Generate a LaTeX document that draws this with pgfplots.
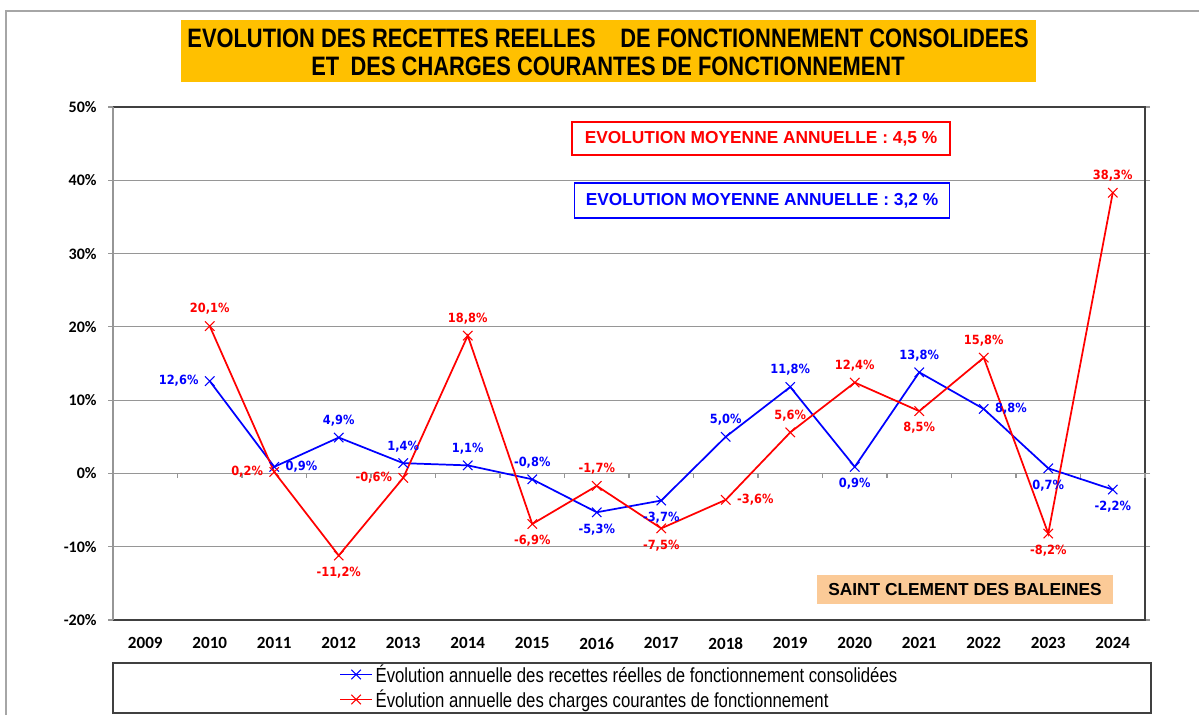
\documentclass[border=0pt]{standalone}
\usepackage{pgfplots}
\pgfplotsset{compat=1.18}
\usepackage{fontspec}
\setmainfont{Liberation Sans}
\newfontfamily\narrowfont{Liberation Sans}[FakeStretch=0.82]
\newfontfamily\calib{Carlito}
\newfontfamily\lblfont{DejaVu Sans}[FakeStretch=0.9]
\definecolor{titleor}{HTML}{FFC000}
\definecolor{peach}{HTML}{FBCA97}
\definecolor{gridc}{HTML}{969696}
\definecolor{boxc}{HTML}{404040}

\pgfplotsset{
  lbl/.style 2 args={
    draw=none, mark=none, forget plot,
    nodes near coords={\pgfmathprintnumber[fixed,fixed zerofill,precision=1,use comma,assume math mode=true]{\pgfplotspointmeta}\%},
    every node near coord/.append style={anchor=#2, inner sep=0.5pt, outer sep=8pt,
       font=\lblfont\bfseries\fontsize{9.5}{11}\selectfont, text=#1},
  }
}

\begin{document}
\begin{tikzpicture}
% outer chart border
\draw[color=gray!70, line width=1.1pt] (4.5pt,0pt) -- (4.5pt,528pt) -- (899.25pt,528pt);

\begin{axis}[
  at={(84.75pt,71.25pt)}, anchor=south west,
  scale only axis, width=774pt, height=384.75pt,
  xmin=-0.5, xmax=15.5, ymin=-20, ymax=50,
  xtick={0,...,15},
  xticklabels={2009,2010,2011,2012,2013,2014,2015,2016,2017,2018,2019,2020,2021,2022,2023,2024},
  ytick={-20,-10,0,10,20,30,40,50},
  yticklabels={-20\%,-10\%,0\%,10\%,20\%,30\%,40\%,50\%},
  ymajorgrids, grid style={color=gridc, line width=0.9pt},
  axis line style={draw=none},
  tick align=outside, major tick length=3.75pt,
  xtick style={draw=none},
  ytick style={color=gridc, line width=0.9pt},
  ticklabel style={font=\calib\bfseries\fontsize{12}{14}\selectfont},
  xticklabel style={yshift=-6pt, font=\calib\bfseries\fontsize{12.8}{14}\selectfont},
  yticklabel style={xshift=-5pt},
  clip=false,
  legend style={at={(0.5,-0.1306)}, anchor=center, xshift=-7pt, draw=none, fill=none,
     font=\narrowfont\fontsize{15.3}{17}\selectfont, row sep=0pt, inner sep=0pt},
  legend cell align=left,
  legend image code/.code={\draw[mark repeat=2,mark phase=2] plot coordinates {(0cm,0cm)(0.42cm,0cm)(0.84cm,0cm)};},
]
% recettes (blue)
\addplot[color=blue, line width=1.3pt, mark=x, mark size=5pt, mark options={line width=0.8pt}]
  coordinates {(1,12.6)(2,0.9)(3,4.9)(4,1.4)(5,1.1)(6,-0.8)(7,-5.3)(8,-3.7)(9,5.0)(10,11.8)(11,0.9)(12,13.8)(13,8.8)(14,0.7)(15,-2.2)};
\addlegendentry{Évolution annuelle des recettes réelles de fonctionnement consolidées}
% charges (red)
\addplot[color=red, line width=1.3pt, mark=x, mark size=5pt, mark options={line width=0.8pt}]
  coordinates {(1,20.1)(2,0.2)(3,-11.2)(4,-0.6)(5,18.8)(6,-6.9)(7,-1.7)(8,-7.5)(9,-3.6)(10,5.6)(11,12.4)(12,8.5)(13,15.8)(14,-8.2)(15,38.3)};
\addlegendentry{Évolution annuelle des charges courantes de fonctionnement}

% data labels, blue
\addplot[lbl={blue}{south}] coordinates {(3,4.9)(4,1.4)(5,1.1)(6,-0.8)(9,5.0)(10,11.8)(12,13.8)};
\addplot[lbl={blue}{north}] coordinates {(7,-5.3)(8,-3.7)(11,0.9)(14,0.7)(15,-2.2)};
\addplot[lbl={blue}{east}] coordinates {(1,12.6)};
\addplot[lbl={blue}{west}] coordinates {(2,0.9)(13,8.8)};
% data labels, red
\addplot[lbl={red}{south}] coordinates {(1,20.1)(5,18.8)(7,-1.7)(10,5.6)(11,12.4)(13,15.8)(15,38.3)};
\addplot[lbl={red}{north}] coordinates {(3,-11.2)(6,-6.9)(8,-7.5)(12,8.5)(14,-8.2)};
\addplot[lbl={red}{east}] coordinates {(2,0.2)(4,-0.6)};
\addplot[lbl={red}{west}] coordinates {(9,-3.6)};

% plot area frame
\draw[color=boxc, line width=1.1pt] (rel axis cs:0,1) -- (rel axis cs:1,1) -- (rel axis cs:1,0) -- (rel axis cs:0,0);
\draw[color=gridc, line width=1.1pt] (rel axis cs:0,0) -- (rel axis cs:0,1);
% category ticks on the zero line
\pgfplotsinvokeforeach{0,...,15}{
  \draw[color=gridc, line width=0.9pt] (axis cs:#1+0.5,0) -- ([yshift=-3.75pt]axis cs:#1+0.5,0);
}
\end{axis}

% legend frame
\draw[color=boxc, line width=1.1pt] (84.75pt,1.5pt) rectangle (863.25pt,39pt);

% title
\fill[titleor] (135.75pt,474.75pt) rectangle (777pt,521.25pt);
\node[font=\narrowfont\bfseries\fontsize{20}{23}\selectfont, text=black] at (456pt,507.5pt)
  {EVOLUTION DES RECETTES REELLES\hspace{14pt} DE FONCTIONNEMENT CONSOLIDEES};
\node[font=\narrowfont\bfseries\fontsize{20}{23}\selectfont, text=black] at (456pt,486.5pt)
  {ET\hspace{4pt} DES CHARGES COURANTES DE FONCTIONNEMENT};

% average boxes
\node[draw=red, line width=0.9pt, fill=white, minimum width=283.5pt, minimum height=24.75pt,
  font=\bfseries\fontsize{13}{15}\selectfont, text=red] at (570.75pt,432.4pt)
  {EVOLUTION MOYENNE ANNUELLE : 4,5 \%};
\node[draw=blue, line width=0.9pt, fill=white, minimum width=281.25pt, minimum height=26.25pt,
  font=\bfseries\fontsize{13}{15}\selectfont, text=blue] at (571.5pt,385.9pt)
  {EVOLUTION MOYENNE ANNUELLE : 3,2 \%};

% place name
\node[fill=peach, minimum width=222pt, minimum height=21.75pt,
  font=\bfseries\fontsize{13}{15}\selectfont, text=black] at (723.75pt,94.1pt)
  {SAINT CLEMENT DES BALEINES};

\pgfresetboundingbox
\path[use as bounding box] (0,0) rectangle (899.25pt,536.25pt);
\end{tikzpicture}
\end{document}
